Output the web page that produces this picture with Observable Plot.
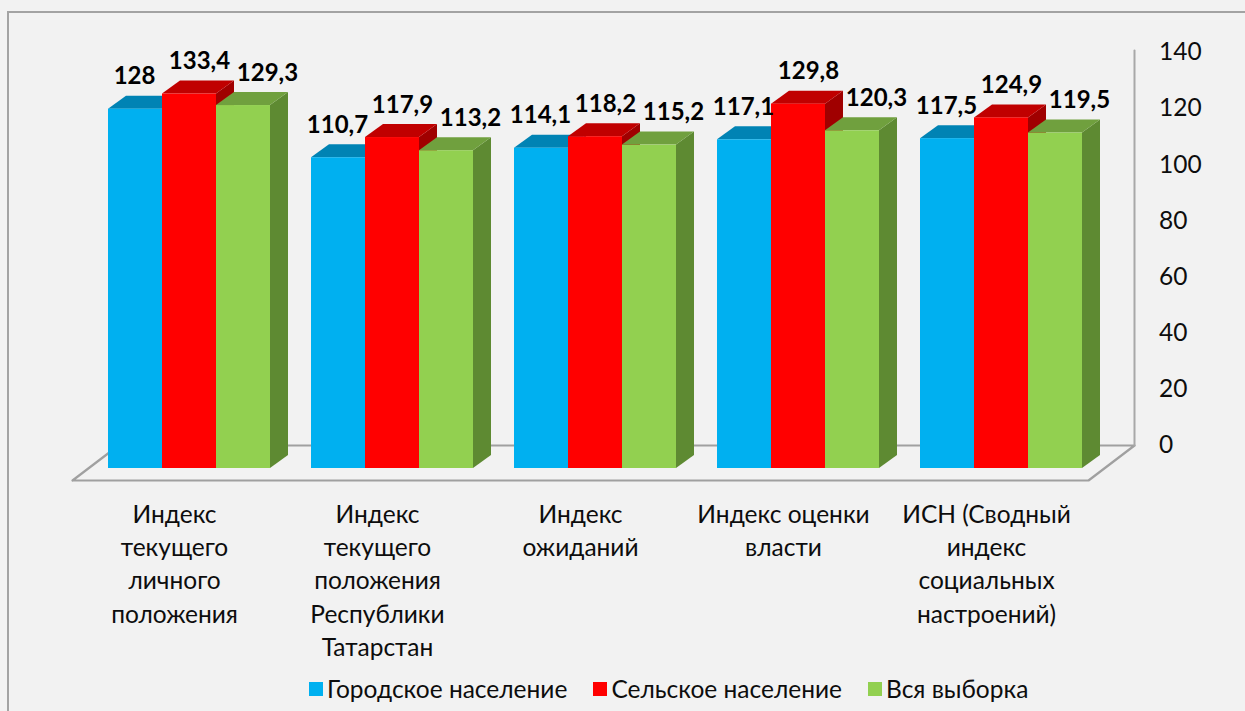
<!DOCTYPE html>
<html>
<head>
<meta charset="utf-8">
<script src="https://cdn.jsdelivr.net/npm/d3@7"></script>
<script src="https://cdn.jsdelivr.net/npm/@observablehq/plot@0.6"></script>
<style>
  html, body { margin: 0; padding: 0; background: #f2f2f2; width: 1245px; height: 711px; overflow: hidden; }
  #border { position: absolute; left: 7px; top: 11px; width: 1400px; height: 900px;
            border-left: 2px solid #a3a3a3; border-top: 2px solid #a3a3a3; }
  #chart { position: absolute; left: 0; top: 0; }
  #legend { position: absolute; left: 309px; top: 674px; display: flex; align-items: center;
            font-family: Lato, sans-serif; font-size: 24.5px; color: #0d0d0d; white-space: nowrap; }
  #legend .item { display: flex; align-items: center; margin-right: 26px; }
  #legend .sw { width: 14px; height: 14px; margin-right: 4px; }
</style>
</head>
<body>
<div id="border"></div>
<div id="chart"></div>
<div id="legend"></div>
<script>
// ---- data ----
const categories = [
  "Индекс\nтекущего\nличного\nположения",
  "Индекс\nтекущего\nположения\nРеспублики\nТатарстан",
  "Индекс\nожиданий",
  "Индекс оценки\nвласти",
  "ИСН (Сводный\nиндекс\nсоциальных\nнастроений)"
];
const seriesNames = ["Городское население", "Сельское население", "Вся выборка"];
const urban  = [128, 110.7, 114.1, 117.1, 117.5];
const rural  = [133.4, 117.9, 118.2, 129.8, 124.9];
const sample = [129.3, 113.2, 115.2, 120.3, 119.5];
const yTicks = [0, 20, 40, 60, 80, 100, 120, 140];

// ---- styles ----
const frontColors = ["#00B0F0", "#FF0000", "#92D050"];
const topColors   = ["#0083B4", "#C00000", "#70A03E"];
const sideColors  = ["#0072A0", "#A00000", "#5E8A32"];
const labelDxPx   = [-1, 10, 24];

const W = 1245, H = 665, ML = 87.5, MR = 142.5, MT = 75, FRONT_BOTTOM = 468;
const pxPerX = (W - ML - MR) / categories.length;
const pxPerY = (FRONT_BOTTOM - MT) / 140;
const DX = 18 / pxPerX, DY = 13 / pxPerY;          // bar depth
const GROUP_PAD = 0.101, BAR_W = 0.266;
const ux = px => (px - ML) / pxPerX;                 // pixel -> x units
const uy = py => (FRONT_BOTTOM - py) / pxPerY;       // pixel -> y units

const values = [urban, rural, sample];
const bars = [];
categories.forEach((c, i) => values.forEach((arr, j) => {
  const x1 = i + GROUP_PAD + j * BAR_W;
  bars.push({i, j, value: arr[i], x1, x2: x1 + BAR_W});
}));

const sides = bars.flatMap(b => [
  {key: `s${b.i}-${b.j}`, x: b.x2,      y1: 0,  y2: b.value,      fill: sideColors[b.j]},
  {key: `s${b.i}-${b.j}`, x: b.x2 + DX, y1: DY, y2: b.value + DY, fill: sideColors[b.j]}
]);
const tops = [...bars].sort((a, b) => a.value - b.value).flatMap(b => {
  const v = b.value;
  return [
    {x: b.x1,      y1: v,      y2: v},
    {x: b.x1 + DX, y1: v,      y2: v + DY},
    {x: b.x2,      y1: v,      y2: v + DY},
    {x: b.x2 + DX, y1: v + DY, y2: v + DY}
  ].map(p => ({...p, key: `t${b.i}-${b.j}`, fill: topColors[b.j]}));
});

// floor outline and back wall (decoration, in pixel geometry)
const floor = [
  {x: ux(72),   y: uy(480)},
  {x: ux(1088), y: uy(480)},
  {x: ux(1134), y: uy(445)},
  {x: ux(118),  y: uy(445)},
  {x: ux(72),   y: uy(480)}
];
const wall = [
  {x: ux(1134), y: uy(445)},
  {x: ux(1134), y: uy(50)}
];

const fmt = v => String(v).replace(".", ",");

const plot = Plot.plot({
  width: W, height: H,
  marginLeft: ML, marginRight: MR, marginTop: MT, marginBottom: H - FRONT_BOTTOM,
  style: {background: "transparent", fontFamily: "Lato, sans-serif", overflow: "visible"},
  x: {domain: [0, categories.length], axis: null},
  y: {domain: [0, 140], axis: null},
  color: {type: "identity"},
  marks: [
    Plot.line(floor, {x: "x", y: "y", stroke: "#a0a0a0", strokeWidth: 2.2}),
    Plot.line(wall, {x: "x", y: "y", stroke: "#a8a8a8", strokeWidth: 2}),
    Plot.axisY(yTicks, {anchor: "right", tickSize: 0, tickPadding: 56, dy: -23,
                        fontSize: 24.5, fill: "#0d0d0d", label: null}),
    Plot.areaY(sides, {x: "x", y1: "y1", y2: "y2", z: "key", fill: "fill"}),
    Plot.areaY(tops,  {x: "x", y1: "y1", y2: "y2", z: "key", fill: "fill"}),
    Plot.rect(bars, {x1: "x1", x2: "x2", y1: 0, y2: "value", fill: b => frontColors[b.j]}),
    Plot.text(bars, {
      x: b => (b.x1 + b.x2) / 2 + labelDxPx[b.j] / pxPerX,
      y: "value", text: b => fmt(b.value),
      lineAnchor: "bottom", dy: -25,
      fontSize: 24, fontWeight: "bold", fill: "#000"
    }),
    Plot.text(categories, {
      x: (d, i) => i + 0.5, frameAnchor: "bottom", text: d => d,
      lineAnchor: "top", dy: 31, dx: -15, lineHeight: 1.355,
      fontSize: 24.5, fill: "#0d0d0d"
    })
  ]
});
document.getElementById("chart").appendChild(plot);

const legend = d3.select("#legend");
seriesNames.forEach((s, j) => {
  const it = legend.append("div").attr("class", "item");
  it.append("div").attr("class", "sw").style("background", frontColors[j]);
  it.append("span").text(s);
});
</script>
</body>
</html>
